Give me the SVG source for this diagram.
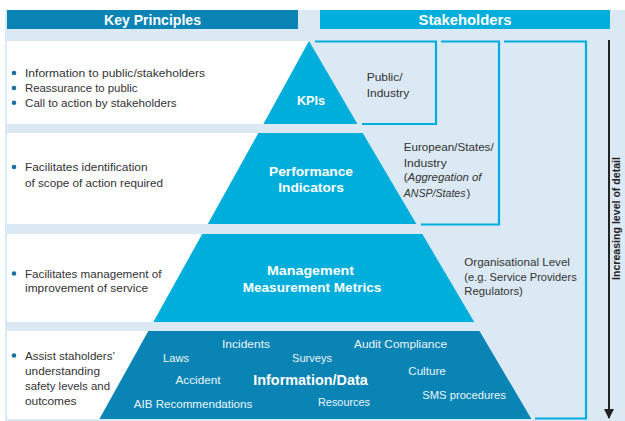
<svg xmlns="http://www.w3.org/2000/svg" width="625" height="421" viewBox="0 0 625 421">
  <defs>
    <style>
      text { font-family: "Liberation Sans", Arial, sans-serif; }
      .hdr { font-size: 14.5px; font-weight: bold; fill: #ffffff; text-anchor: middle; }
      .body { font-size: 11.5px; fill: #333333; }
      .it { font-style: italic; }
      .lvl { font-size: 13.5px; font-weight: bold; fill: #ffffff; text-anchor: middle; }
      .item { font-size: 11.5px; fill: #eaf6fb; text-anchor: middle; }
      .bul { fill: #1d6f9c; }
      .frame { fill: none; stroke: #00aedb; stroke-width: 2.2; }
      .cyan { fill: #00aedb; }
      .deep { fill: #0a84b4; }
      .white { fill: #ffffff; }
    </style>
    <marker id="arrowhead" viewBox="0 0 10 10" refX="9" refY="5" markerWidth="10" markerHeight="10" orient="auto" markerUnits="userSpaceOnUse">
      <path d="M0,0 L10,5 L0,10 z" fill="#222222"/>
    </marker>
  </defs>

  <!-- panel background -->
  <rect x="5" y="10" width="620" height="411" fill="#dbe9f4"/>

  <!-- column headers -->
  <g id="header-key-principles">
    <rect x="7" y="10" width="291" height="19" class="deep"/>
    <text x="152.5" y="24.5" class="hdr" textLength="97" lengthAdjust="spacingAndGlyphs">Key Principles</text>
  </g>
  <g id="header-stakeholders">
    <rect x="320" y="10" width="290" height="19" class="cyan"/>
    <text x="465" y="24.5" class="hdr" textLength="93" lengthAdjust="spacingAndGlyphs">Stakeholders</text>
  </g>

  <!-- white principle rows -->
  <g id="rows">
    <rect x="7" y="41" width="302" height="83" class="white"/>
    <rect x="7" y="133" width="302" height="91" class="white"/>
    <rect x="7" y="234" width="302" height="88" class="white"/>
    <rect x="7" y="331" width="302" height="88" class="white"/>
  </g>

  <!-- stakeholder frames and detail axis -->
  <g id="connectors">
    <polyline class="frame" points="315,41.5 436,41.5 436,124 362,124"/>
    <polyline class="frame" points="441,41.5 499,41.5 499,224.5 421,224.5"/>
    <polyline class="frame" points="504,41.5 586,41.5 586,418.5 535,418.5"/>
    <line x1="609" y1="40" x2="609" y2="418" stroke="#222222" stroke-width="2" marker-end="url(#arrowhead)"/>
  </g>

  <!-- pyramid levels -->
  <g id="level-kpis">
    <polygon class="cyan" points="309,41 357.4,124 263.4,124"/>
    <text x="311" y="104.5" class="lvl" textLength="28" lengthAdjust="spacingAndGlyphs">KPIs</text>
  </g>
  <g id="level-performance-indicators">
    <polygon class="cyan" points="258.4,133 362.7,133 416.4,224 207.8,224"/>
    <text x="311" y="175.5" class="lvl" textLength="84" lengthAdjust="spacingAndGlyphs">Performance</text>
    <text x="311" y="192" class="lvl" textLength="65.5" lengthAdjust="spacingAndGlyphs">Indicators</text>
  </g>
  <g id="level-management-metrics">
    <polygon class="cyan" points="202.2,234 422.3,234 474.2,322 153.3,322"/>
    <text x="310.5" y="275" class="lvl" textLength="87" lengthAdjust="spacingAndGlyphs">Management</text>
    <text x="312" y="291.5" class="lvl" textLength="138.5" lengthAdjust="spacingAndGlyphs">Measurement Metrics</text>
  </g>
  <g id="level-information-data">
    <polygon class="deep" points="148.3,331 479.5,331 531.4,419 99.4,419"/>
    <text x="246" y="348" class="item" textLength="48" lengthAdjust="spacingAndGlyphs">Incidents</text>
    <text x="400.5" y="348" class="item" textLength="93" lengthAdjust="spacingAndGlyphs">Audit Compliance</text>
    <text x="176" y="362.3" class="item" textLength="26" lengthAdjust="spacingAndGlyphs">Laws</text>
    <text x="312" y="361.7" class="item" textLength="40" lengthAdjust="spacingAndGlyphs">Surveys</text>
    <text x="427" y="374.7" class="item" textLength="37.5" lengthAdjust="spacingAndGlyphs">Culture</text>
    <text x="198" y="384" class="item" textLength="45" lengthAdjust="spacingAndGlyphs">Accident</text>
    <text x="310.5" y="384.5" class="lvl" style="font-size:14px" textLength="114.5" lengthAdjust="spacingAndGlyphs">Information/Data</text>
    <text x="464" y="399" class="item" textLength="83.5" lengthAdjust="spacingAndGlyphs">SMS procedures</text>
    <text x="193" y="408" class="item" textLength="118.5" lengthAdjust="spacingAndGlyphs">AIB Recommendations</text>
    <text x="344" y="405.7" class="item" textLength="52" lengthAdjust="spacingAndGlyphs">Resources</text>
  </g>

  <!-- key principles per level -->
  <g id="principles-kpis">
    <circle cx="14" cy="73" r="2.3" class="bul"/>
    <circle cx="14" cy="88" r="2.3" class="bul"/>
    <circle cx="14" cy="102.7" r="2.3" class="bul"/>
    <text x="25" y="77" class="body" textLength="180" lengthAdjust="spacingAndGlyphs">Information to public/stakeholders</text>
    <text x="25" y="92" class="body" textLength="112.5" lengthAdjust="spacingAndGlyphs">Reassurance to public</text>
    <text x="25" y="106.7" class="body" textLength="151.6" lengthAdjust="spacingAndGlyphs">Call to action by stakeholders</text>
  </g>
  <g id="principles-performance-indicators">
    <circle cx="14" cy="167" r="2.3" class="bul"/>
    <text x="25" y="171" class="body" textLength="122.5" lengthAdjust="spacingAndGlyphs">Facilitates identification</text>
    <text x="25" y="186.5" class="body" textLength="138" lengthAdjust="spacingAndGlyphs">of scope of action required</text>
  </g>
  <g id="principles-management-metrics">
    <circle cx="14" cy="273.5" r="2.3" class="bul"/>
    <text x="25" y="277.5" class="body" textLength="136.4" lengthAdjust="spacingAndGlyphs">Facilitates management of</text>
    <text x="25" y="291.5" class="body" textLength="123" lengthAdjust="spacingAndGlyphs">improvement of service</text>
  </g>
  <g id="principles-information-data">
    <circle cx="14" cy="355.5" r="2.3" class="bul"/>
    <text x="25" y="359.5" class="body" textLength="90" lengthAdjust="spacingAndGlyphs">Assist staholders’</text>
    <text x="25" y="374.5" class="body" textLength="75" lengthAdjust="spacingAndGlyphs">understanding</text>
    <text x="25" y="389.5" class="body" textLength="85" lengthAdjust="spacingAndGlyphs">safety levels and</text>
    <text x="25" y="404.5" class="body" textLength="51.5" lengthAdjust="spacingAndGlyphs">outcomes</text>
  </g>

  <!-- stakeholder labels -->
  <g id="stakeholders-public">
    <text x="366.7" y="81" class="body" textLength="35.8" lengthAdjust="spacingAndGlyphs">Public/</text>
    <text x="366.7" y="96.7" class="body" textLength="42.6" lengthAdjust="spacingAndGlyphs">Industry</text>
  </g>
  <g id="stakeholders-european">
    <text x="403.7" y="151.3" class="body" textLength="90" lengthAdjust="spacingAndGlyphs">European/States/</text>
    <text x="403.7" y="166.5" class="body" textLength="43" lengthAdjust="spacingAndGlyphs">Industry</text>
    <text x="403.7" y="181.2" class="body">(</text>
    <text x="407.6" y="181.2" class="body it" textLength="73.9" lengthAdjust="spacingAndGlyphs">Aggregation of</text>
    <text x="403.7" y="196.7" class="body it" style="font-size:10.6px">ANSP/States</text>
    <text x="466.5" y="196.7" class="body">)</text>
  </g>
  <g id="stakeholders-organisational">
    <text x="464.3" y="266.3" class="body" textLength="105.6" lengthAdjust="spacingAndGlyphs">Organisational Level</text>
    <text x="464.3" y="280.7" class="body" textLength="112.4" lengthAdjust="spacingAndGlyphs">(e.g. Service Providers</text>
    <text x="464.3" y="295" class="body" textLength="58.6" lengthAdjust="spacingAndGlyphs">Regulators)</text>
  </g>

  <!-- detail axis label -->
  <text transform="translate(620,218.5) rotate(-90)" text-anchor="middle" font-size="10.5" font-weight="bold" fill="#1e1e1e" textLength="123" lengthAdjust="spacingAndGlyphs">Increasing level of detail</text>
</svg>
